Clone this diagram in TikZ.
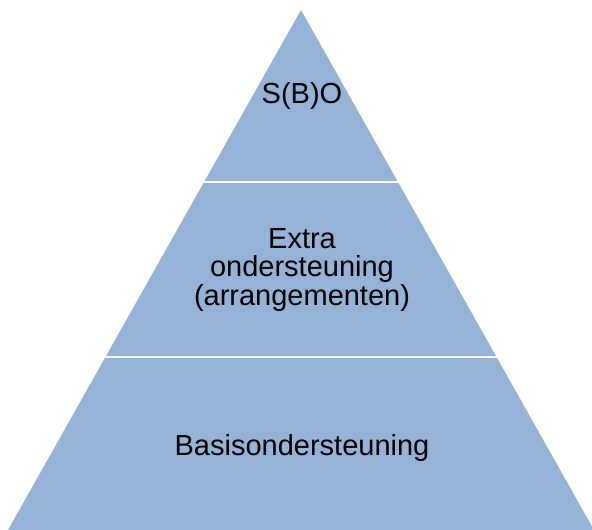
\documentclass[tikz,border=0pt]{standalone}
\usepackage{fontspec}
\setmainfont{Liberation Sans}
\definecolor{pyrblue}{HTML}{95B3D7}
\begin{document}
\begin{tikzpicture}[x=1pt, y=-1pt,
    layer/.style={fill=pyrblue},
    caption/.style={font=\fontsize{29}{28.5}\selectfont, align=center, anchor=base, inner sep=0pt}]
        \useasboundingbox (0,0) rectangle (592,530);

        % corners of the three layers
        \coordinate (apex) at (301,10);
        \coordinate (t1l) at (204.6,181);
        \coordinate (t1r) at (397.4,181);
        \coordinate (m1l) at (203.5,183);
        \coordinate (m1r) at (398.5,183);
        \coordinate (m2l) at (106,356);
        \coordinate (m2r) at (496,356);
        \coordinate (b1l) at (104.9,358);
        \coordinate (b1r) at (497.1,358);
        \coordinate (b2l) at (8,530);
        \coordinate (b2r) at (594,530);

        \fill[layer] (apex) -- (t1r) -- (t1l) -- cycle;
        \fill[layer] (m1l) -- (m1r) -- (m2r) -- (m2l) -- cycle;
        \fill[layer] (b1l) -- (b1r) -- (b2r) -- (b2l) -- cycle;

        % last line of a node sits on the given base
        \node[caption] (sbo) at (302,103) {S(B)O};
        \node[caption] (extra) at (302,305) {Extra\\ondersteuning\\(arrangementen)};
        \node[caption] (basis) at (302,455) {Basisondersteuning};
\end{tikzpicture}
\end{document}
